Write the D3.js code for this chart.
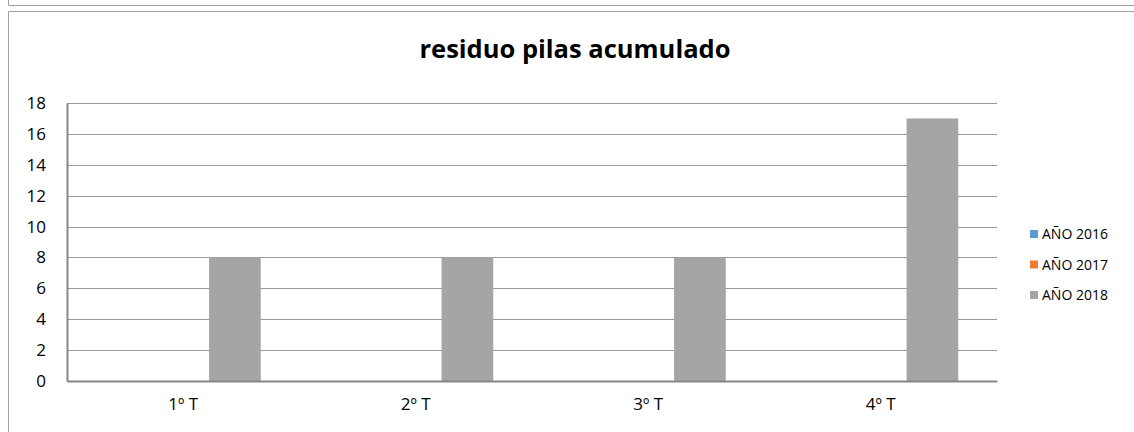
<!DOCTYPE html>
<html>
<head>
<meta charset="utf-8">
<script src="https://cdn.jsdelivr.net/npm/d3@7"></script>
<style>
  body{ margin:0; background:#fff; }
  svg{ display:block; font-family:'Open Sans', 'Noto Sans', sans-serif; }
</style>
</head>
<body>
<div id="chart"></div>
<script>
// Chart data
var categories = [ '1º T', '2º T', '3º T', '4º T' ];
var series_names = [ 'AÑO 2016', 'AÑO 2017', 'AÑO 2018' ];
var values_2016 = [ 0, 0, 0, 0 ];
var values_2017 = [ 0, 0, 0, 0 ];
var values_2018 = [ 8, 8, 8, 17 ];
var y_ticks = [ 0, 2, 4, 6, 8, 10, 12, 14, 16, 18 ];
var bar_colors = [ '#5b9bd5', '#ed7d31', '#a5a5a5' ];

var series = [ values_2016, values_2017, values_2018 ];

var width = 1134, height = 432;
var margin = { left: 67, top: 103, right: 137, bottom: 51 };
var plot_width = width - margin.left - margin.right;
var plot_height = height - margin.top - margin.bottom;

var svg = d3.select( '#chart' ).append( 'svg' )
  .attr( 'width', width )
  .attr( 'height', height );

// Outer frames (box above and the chart box)
svg.append( 'path' )
  .attr( 'd', 'M8.5,0 V5.5 H1134' )
  .attr( 'fill', 'none' )
  .attr( 'stroke', '#a0a0a0' );
svg.append( 'path' )
  .attr( 'd', 'M1134,11.5 H8.5 V432' )
  .attr( 'fill', 'none' )
  .attr( 'stroke', '#a0a0a0' );

// Title
svg.append( 'text' )
  .attr( 'x', 575 )
  .attr( 'y', 58 )
  .attr( 'text-anchor', 'middle' )
  .attr( 'font-size', 25.5 )
  .attr( 'font-weight', 'bold' )
  .attr( 'fill', '#000' )
  .text( 'residuo pilas acumulado' );

var g = svg.append( 'g' )
  .attr( 'transform', 'translate(' + margin.left + ',' + margin.top + ')' );

var x_scale = d3.scaleBand()
  .domain( categories )
  .range( [ 0, plot_width ] );

// Excel style gap width of 150%
var bar_width = x_scale.bandwidth() / ( series.length + 1.5 );

var y_scale = d3.scaleLinear()
  .domain( [ 0, 18 ] )
  .range( [ plot_height, 0 ] );

// Gridlines
g.append( 'g' )
  .selectAll( 'line' )
  .data( y_ticks )
  .enter()
  .append( 'line' )
    .attr( 'x1', 0 )
    .attr( 'x2', plot_width )
    .attr( 'y1', function( d ){ return Math.round( y_scale( d ) ) + 0.5; } )
    .attr( 'y2', function( d ){ return Math.round( y_scale( d ) ) + 0.5; } )
    .attr( 'stroke', '#999999' )
    .attr( 'stroke-width', 1 );

// Bars
series.forEach( function( vals, si ){
  g.append( 'g' )
    .selectAll( 'rect' )
    .data( vals )
    .enter()
    .append( 'rect' )
      .attr( 'x', function( d, i ){ return x_scale( categories[i] ) + bar_width * 0.75 + si * bar_width; } )
      .attr( 'y', function( d ){ return y_scale( d ); } )
      .attr( 'width', bar_width )
      .attr( 'height', function( d ){ return plot_height - y_scale( d ); } )
      .attr( 'fill', bar_colors[si] );
});

// Axes
var y_axis = g.append( 'g' )
  .call( d3.axisLeft( y_scale ).tickValues( y_ticks ).tickSize( 0 ).tickPadding( 21 ) );
y_axis.select( '.domain' ).attr( 'stroke', '#868686' ).attr( 'stroke-width', 2 );
y_axis.selectAll( 'text' ).attr( 'font-size', 17 ).attr( 'fill', '#000' ).attr( 'font-family', 'Open Sans, sans-serif' );

var x_axis = g.append( 'g' )
  .attr( 'transform', 'translate(0,' + plot_height + ')' )
  .call( d3.axisBottom( x_scale ).tickSize( 0 ).tickPadding( 17 ) );
x_axis.select( '.domain' ).attr( 'stroke', '#868686' ).attr( 'stroke-width', 2 );
x_axis.selectAll( 'text' ).attr( 'font-size', 17 ).attr( 'fill', '#000' ).attr( 'font-family', 'Open Sans, sans-serif' );

// Legend
var legend = svg.append( 'g' )
  .attr( 'transform', 'translate(1030,234)' );
series_names.forEach( function( name, i ){
  var row = legend.append( 'g' ).attr( 'transform', 'translate(0,' + i * 30.5 + ')' );
  row.append( 'rect' )
    .attr( 'x', 0 ).attr( 'y', -4 )
    .attr( 'width', 8 ).attr( 'height', 8 )
    .attr( 'fill', bar_colors[i] );
  row.append( 'text' )
    .attr( 'x', 12 ).attr( 'y', 5 )
    .attr( 'font-size', 14 )
    .attr( 'fill', '#000' )
    .text( name );
});
</script>
</body>
</html>
